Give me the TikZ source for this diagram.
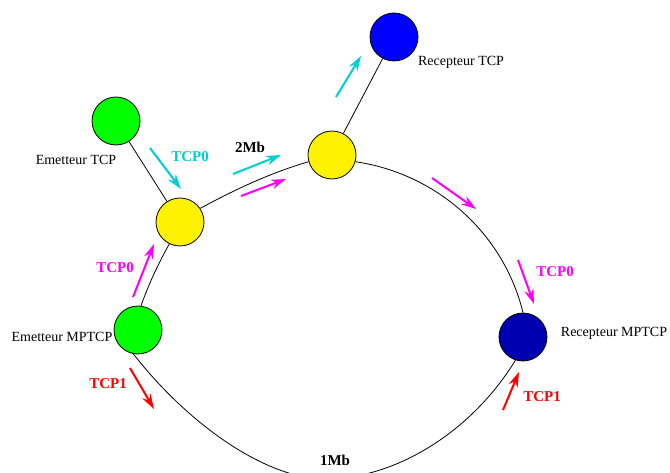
\documentclass[tikz,border=0pt]{standalone}
\usepackage{fontspec}
\setmainfont{Liberation Serif}
\usetikzlibrary{arrows.meta}
\definecolor{tcpcyan}{RGB}{0,206,209}
\definecolor{tcpmagenta}{RGB}{255,0,255}
\definecolor{darkblue}{RGB}{0,0,176}

\begin{document}
\begin{tikzpicture}[x=1pt, y=-1pt]
    \tikzstyle{host}=[circle, draw, line width=0.8pt, inner sep=0pt, minimum size=48pt]
    \tikzstyle{hostname}=[font=\fontsize{14}{16}\selectfont]
    \tikzstyle{rate}=[font=\fontsize{15}{17}\selectfont\bfseries]
    \tikzstyle{pkt}=[-{Stealth[length=15pt, width=9.5pt, inset=5pt]}, line width=2pt]
    \tikzstyle{link}=[line width=0.8pt]
    \useasboundingbox (0,0) rectangle (670,473);
    \clip (0,0) rectangle (670,473);

    % Noeuds
    \node[host, fill=green] (emtcp) at (116,121) {};
    \node[host, fill=yellow] (r1) at (180,222) {};
    \node[host, fill=yellow] (r2) at (332,155) {};
    \node[host, fill=blue] (rctcp) at (394,37) {};
    \node[host, fill=green] (emmp) at (138,330) {};
    \node[host, fill=darkblue] (rcmp) at (523,337) {};
    \coordinate (bas) at (325,479);

    % Anneau
    \draw[link] (emmp.83) .. controls (148.5,285) and (157,266) .. (r1.244);
    \draw[link] (r1.34) .. controls (235,189.5) and (270.6,172.8) .. (r2.196);
    \draw[link] (r2.344) .. controls (437.6,173.8) and (503.8,233.8) .. (rcmp.90);
    \draw[link] (emmp.259) .. controls (192.4,429.2) and (269.3,479) .. (bas)
                .. controls (395.3,479) and (471.3,432.2) .. (rcmp.252);

    % Liens
    \draw[link] (emtcp) -- (r1);
    \draw[link] (r2) -- (rctcp);

    % Noms
    \node[hostname] (n-emtcp) at (76,160) {Emetteur TCP};
    \node[hostname] (n-rctcp) at (461,62) {Recepteur TCP};
    \node[hostname] (n-emmp) at (62,337) {Emetteur MPTCP};
    \node[hostname] (n-rcmp) at (614,333) {Recepteur MPTCP};
    \node[rate] (d-haut) at (250,147) {2Mb};
    \node[rate] (d-bas) at (335,460) {1Mb};

    % Flux
    \coordinate (c1a) at (150,148); \coordinate (c1b) at (181,189);
    \coordinate (c2a) at (233,174); \coordinate (c2b) at (281,155);
    \coordinate (c3a) at (336,97);  \coordinate (c3b) at (361,56);
    \coordinate (m1a) at (133,297); \coordinate (m1b) at (154,244);
    \coordinate (m2a) at (241,196); \coordinate (m2b) at (286,179);
    \coordinate (m3a) at (432,178); \coordinate (m3b) at (476,209);
    \coordinate (m4a) at (518,260); \coordinate (m4b) at (534,304);
    \coordinate (r1a) at (130,368); \coordinate (r1b) at (154,409);
    \coordinate (r2a) at (503,410); \coordinate (r2b) at (519,372);

    \draw[pkt, tcpcyan] (c1a) -- (c1b);
    \draw[pkt, tcpcyan] (c2a) -- (c2b);
    \draw[pkt, tcpcyan] (c3a) -- (c3b);
    \draw[pkt, tcpmagenta] (m1a) -- (m1b);
    \draw[pkt, tcpmagenta] (m2a) -- (m2b);
    \draw[pkt, tcpmagenta] (m3a) -- (m3b);
    \draw[pkt, tcpmagenta] (m4a) -- (m4b);
    \draw[pkt, red] (r1a) -- (r1b);
    \draw[pkt, red] (r2a) -- (r2b);

    \node[rate, text=tcpcyan] (f-c) at (190,157) {TCP0};
    \node[rate, text=tcpmagenta] (f-m1) at (115,268) {TCP0};
    \node[rate, text=tcpmagenta] (f-m2) at (555,272) {TCP0};
    \node[rate, text=red] (f-r1) at (108,384) {TCP1};
    \node[rate, text=red] (f-r2) at (542,397) {TCP1};
\end{tikzpicture}
\end{document}
